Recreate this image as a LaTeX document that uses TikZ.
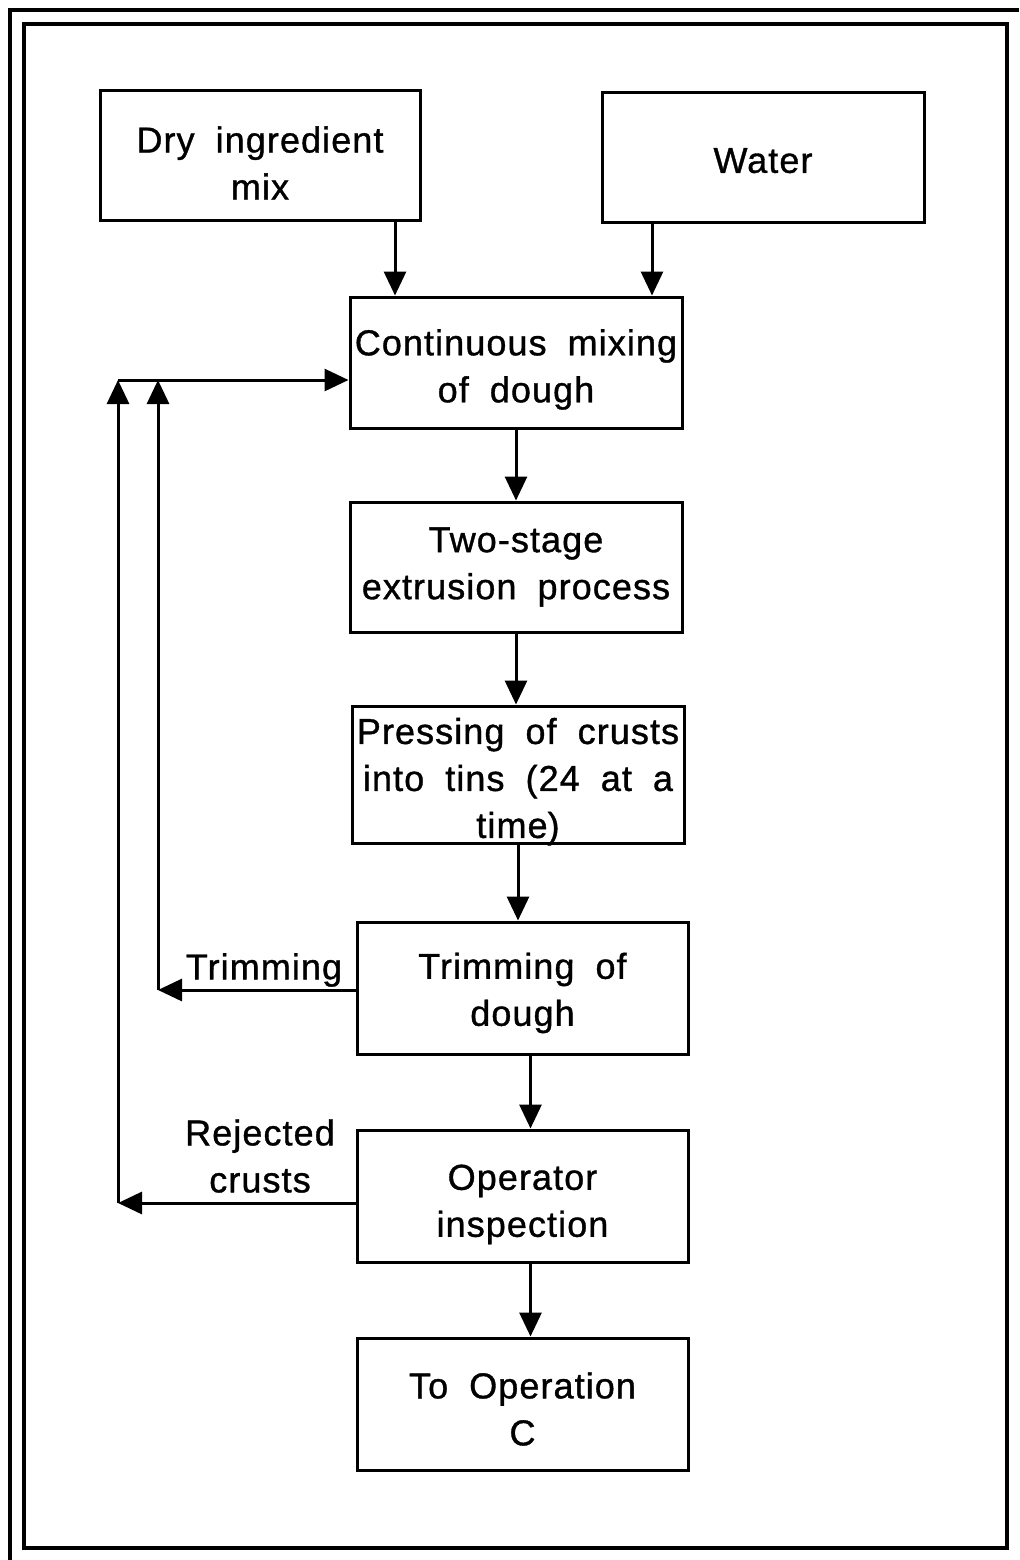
\documentclass[tikz,border=0pt]{standalone}
\usepackage{fontspec}
\setmainfont{Liberation Sans}[WordSpace=1.9, LetterSpace=3, FakeBold=1]
\usetikzlibrary{arrows.meta,calc}
\newcommand{\myup}[1]{\rule{0pt}{#1}}
\begin{document}
\begin{tikzpicture}[x=0.5pt,y=-0.5pt,
  frame/.style={line width=2pt},
  box/.style={draw, line width=1.5pt, inner sep=0pt, align=center,
    font=\fontsize{18pt}{23.5pt}\selectfont},
  lbl/.style={inner sep=0pt, align=center, font=\fontsize{18pt}{23.5pt}\selectfont},
  arr/.style={line width=1.5pt, -{Triangle[length=12pt,width=11pt]}},
  ln/.style={line width=1.5pt}]
\useasboundingbox (0,0) rectangle (1019,1560);
% frames
\draw[frame] (10,1560) -- (10,10) -- (1019,10);
\draw[frame] (24,24) rectangle (1007,1548);
% boxes
\node[box, minimum width=160pt, minimum height=65pt] (dry) at (260,155) {\myup{21pt}Dry ingredient\\mix};
\node[box, minimum width=161pt, minimum height=65pt] (water) at (763,157) {\myup{16pt}Water};
\node[box, minimum width=166pt, minimum height=65.5pt] (mix) at (516,362.5) {\myup{20pt}Continuous mixing\\of dough};
\node[box, minimum width=166pt, minimum height=65pt] (two) at (516,567) {Two-stage\\extrusion process};
\node[box, minimum width=166pt, minimum height=68.5pt] (press) at (518,774.5) {\myup{16.6pt}Pressing of crusts\\into tins (24 at a\\time\raisebox{0pt}[\height][0pt]{)}};
\node[box, minimum width=165.5pt, minimum height=66pt] (trim) at (522.5,988) {\myup{18pt}Trimming of\\dough};
\node[box, minimum width=165.5pt, minimum height=66pt] (op) at (522.5,1196) {\myup{21pt}Operator\\inspection};
\node[box, minimum width=165.5pt, minimum height=66pt] (to) at (522.5,1404) {\myup{18pt}To Operation\\C};
% labels
\node[lbl] (ltrim) at (264,970) {Trimming};
\node[lbl] (lrej) at (260,1156) {Rejected\\crusts};
% main flow
\draw[arr] ([xshift=67.5pt]dry.south) -- ([xshift=67.5pt]dry.south |- mix.north);
\draw[arr] ([xshift=-55.5pt]water.south) -- ([xshift=-55.5pt]water.south |- mix.north);
\draw[arr] (mix.south) -- (mix.south |- two.north);
\draw[arr] (two.south) -- (two.south |- press.north);
\draw[arr] (press.south) -- (press.south |- trim.north);
\draw[arr] ([xshift=4pt]trim.south) -- ([xshift=4pt]trim.south |- op.north);
\draw[arr] ([xshift=4pt]op.south) -- ([xshift=4pt]op.south |- to.north);
% feedback
\coordinate (fl) at (118,380);
\coordinate (tl) at (158,380);
\draw[arr] (fl) -- (fl -| mix.west);
\draw[arr] ([yshift=-1pt]trim.west) -- ([yshift=-1pt]trim.west -| tl);
\draw[arr] ([yshift=-1pt]trim.west -| tl) -- (tl);
\draw[arr] ([yshift=-3.5pt]op.west) -- ([yshift=-3.5pt]op.west -| fl);
\draw[arr] ([yshift=-3.5pt]op.west -| fl) -- (fl);
\end{tikzpicture}
\end{document}
